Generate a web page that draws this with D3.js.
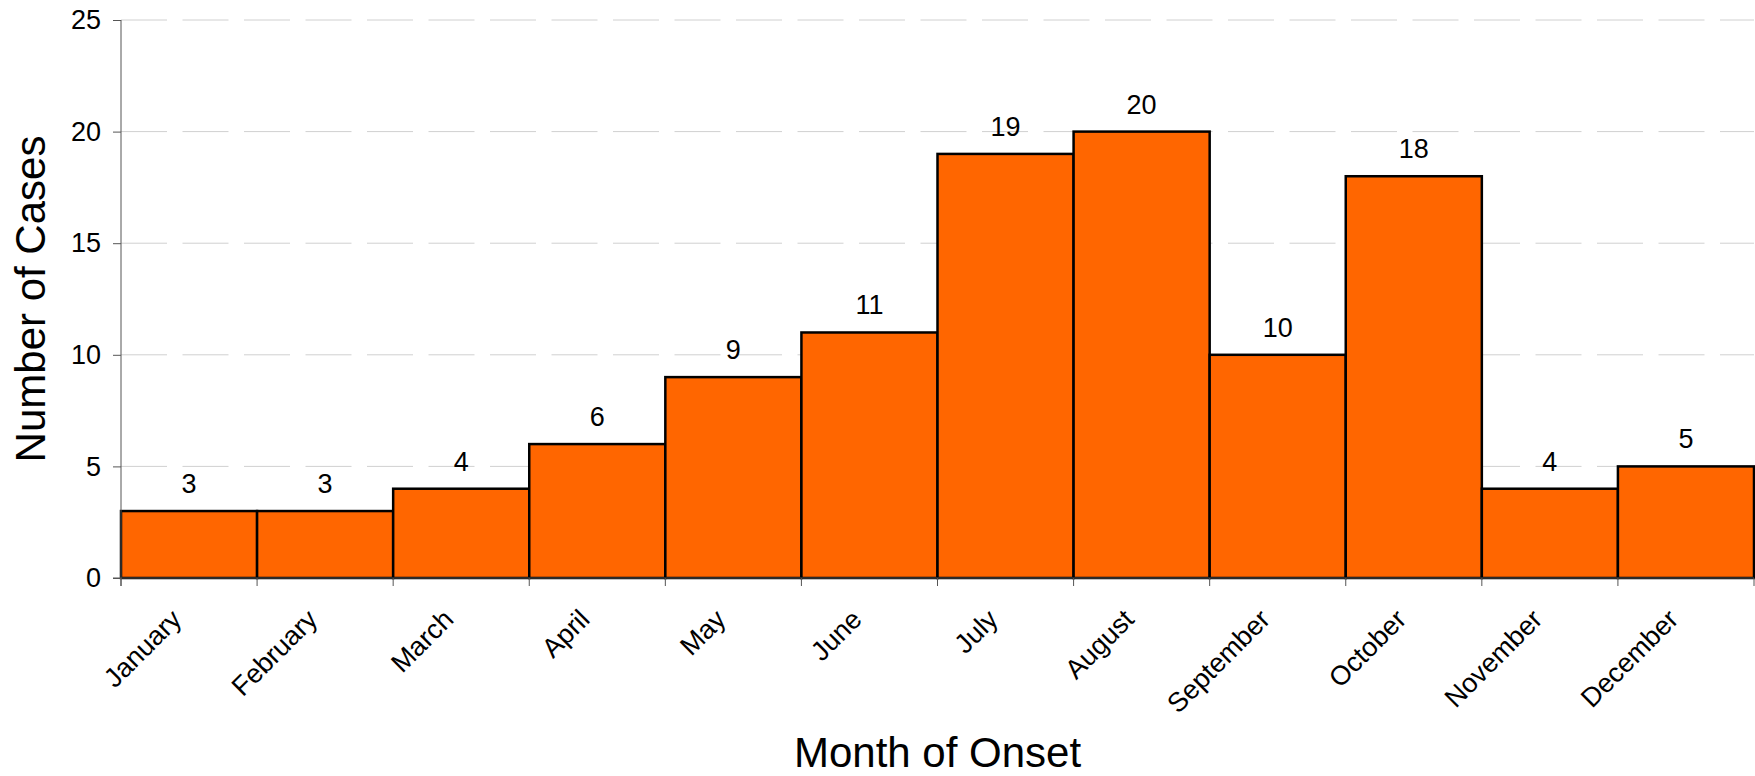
<!DOCTYPE html>
<html>
<head>
<meta charset="utf-8">
<script src="https://cdn.jsdelivr.net/npm/d3@7"></script>
<style>
    body { margin: 0; background: #fff; }
    text { font-family: "Liberation Sans", Arial, sans-serif; fill: #000; }
</style>
</head>
<body>
<div id="chart"></div>
<script>
// data
const months = ["January", "February", "March", "April", "May", "June",
    "July", "August", "September", "October", "November", "December"];
const cases = [3, 3, 4, 6, 9, 11, 19, 20, 10, 18, 4, 5];
const yTicks = [0, 5, 10, 15, 20, 25];

const W = 1755, H = 776;
const plotL = 121, plotR = 1754, plotT = 20, plotB = 578;
const smallFont = "27px";

const svg = d3.select("#chart").append("svg")
    .attr("width", W)
    .attr("height", H);

const x = d3.scaleBand()
    .domain(months)
    .range([plotL, plotR])
    .padding(0);

const y = d3.scaleLinear()
    .domain([0, 25])
    .range([plotB, plotT]);

// dashed grid
svg.append("g")
    .selectAll("line")
    .data(yTicks.filter(d => d > 0))
    .join("line")
    .attr("x1", plotL)
    .attr("x2", plotR)
    .attr("y1", d => y(d))
    .attr("y2", d => y(d))
    .attr("stroke", "#d0d0d0")
    .attr("stroke-width", 1)
    .attr("stroke-dasharray", "46,15.5");

// bars
svg.append("g")
    .selectAll("rect")
    .data(cases)
    .join("rect")
    .attr("x", (d, i) => x(months[i]))
    .attr("y", d => y(d))
    .attr("width", x.bandwidth())
    .attr("height", d => plotB - y(d))
    .attr("fill", "#ff6600")
    .attr("stroke", "#000")
    .attr("stroke-width", 2.5);

// value labels
svg.append("g")
    .selectAll("text")
    .data(cases)
    .join("text")
    .attr("x", (d, i) => x(months[i]) + x.bandwidth() / 2)
    .attr("y", d => y(d) - 18)
    .attr("text-anchor", "middle")
    .style("font-size", smallFont)
    .text(d => d);

// y axis
const yAxis = svg.append("g")
    .attr("transform", "translate(" + plotL + ",0)")
    .call(d3.axisLeft(y).tickValues(yTicks).tickSize(8).tickPadding(12));
yAxis.select(".domain").attr("stroke", "#555").attr("d", "M0," + plotT + "V" + (plotB + 8));
yAxis.selectAll(".tick line").attr("stroke", "#555");
yAxis.selectAll(".tick text")
    .style("font-size", smallFont)
    .style("font-family", "'Liberation Sans', Arial, sans-serif")
    .attr("fill", "#000");

// x axis (ticks at band edges)
const xAxis = svg.append("g")
    .attr("transform", "translate(0," + plotB + ")");
xAxis.append("line")
    .attr("x1", plotL - 8)
    .attr("x2", plotR)
    .attr("stroke", "#555");
xAxis.selectAll(".xtick")
    .data(months.concat(["end"]))
    .join("line")
    .attr("class", "xtick")
    .attr("x1", (d, i) => plotL + i * x.step())
    .attr("x2", (d, i) => plotL + i * x.step())
    .attr("y1", 0)
    .attr("y2", 8)
    .attr("stroke", "#555");

// month labels
svg.append("g")
    .selectAll("text")
    .data(months)
    .join("text")
    .attr("transform", d => "translate(" + (x(d) + x.bandwidth() / 2 - 6) + "," + (plotB + 43) + ") rotate(-45)")
    .attr("text-anchor", "end")
    .style("font-size", smallFont)
    .text(d => d);

// axis titles
svg.append("text")
    .attr("x", (plotL + plotR) / 2)
    .attr("y", 767)
    .attr("text-anchor", "middle")
    .style("font-size", "42px")
    .text("Month of Onset");

svg.append("text")
    .attr("transform", "translate(45," + ((plotT + plotB) / 2) + ") rotate(-90)")
    .attr("text-anchor", "middle")
    .style("font-size", "42px")
    .text("Number of Cases");
</script>
</body>
</html>
